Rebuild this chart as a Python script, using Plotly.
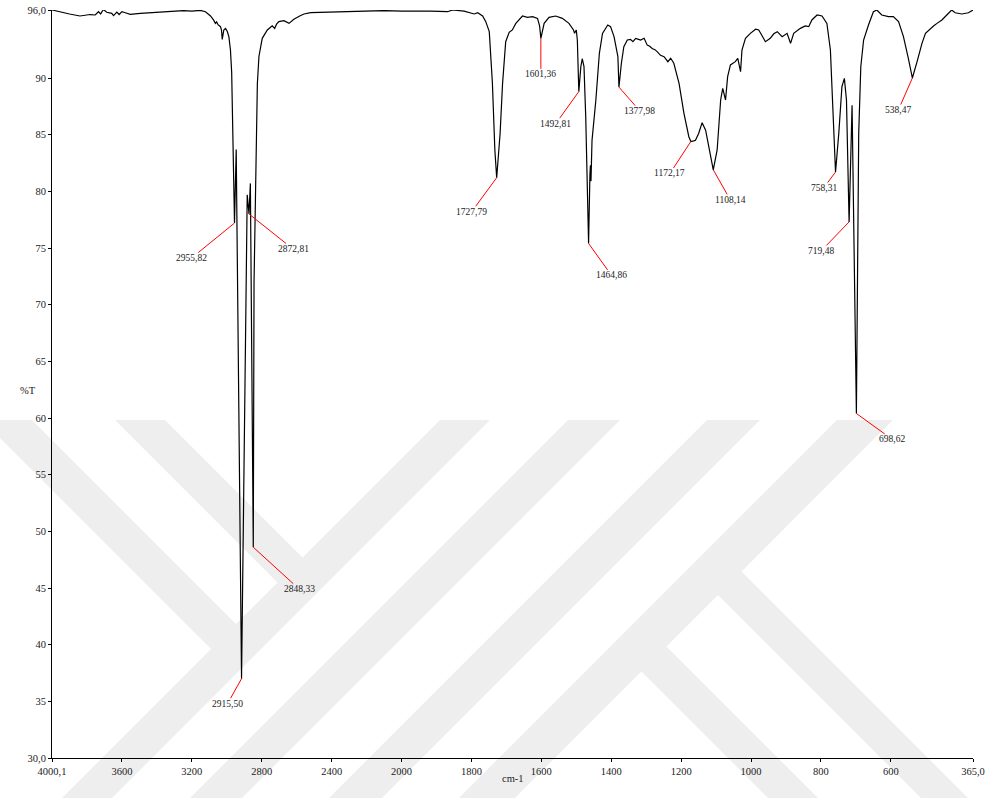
import numpy as np
import plotly.graph_objects as go

# ---- FTIR spectrum: wavenumber (cm-1) and transmittance (%T) ----
wavenumber = [
    4000.1, 3960, 3900, 3840, 3800, 3782, 3753, 3734, 3722, 3706, 3687, 3668, 3658, 3648,
    3629, 3616, 3600, 3581, 3552, 3495, 3440, 3380, 3300, 3248, 3200, 3151, 3122, 3093,
    3075, 3065, 3058, 3050, 3036, 3030, 3026, 3021, 3017, 3007, 2997, 2988, 2979, 2972,
    2969, 2963, 2946, 2883, 2865, 2844, 2830, 2825, 2816, 2797, 2768, 2740, 2726,
    2715, 2702, 2673, 2644, 2616, 2580, 2558, 2520, 2405, 2300, 2200, 2100, 2000, 1950,
    1916, 1868, 1854, 1821, 1792, 1782, 1768, 1759, 1749, 1740, 1733, 1718, 1711, 1702,
    1692, 1683, 1673, 1664, 1654, 1640, 1625, 1611, 1605, 1597, 1592, 1578, 1559, 1540,
    1521, 1508, 1505, 1500, 1497, 1487, 1483, 1478, 1473, 1468, 1461, 1459.5, 1458, 1455,
    1444, 1434, 1425, 1410, 1402, 1392, 1381, 1371, 1364, 1354, 1345, 1338, 1330, 1316,
    1306, 1297, 1290, 1283, 1275, 1268, 1259, 1249, 1238, 1230, 1221, 1206, 1192, 1178,
    1164, 1159, 1150, 1140, 1130, 1120, 1097, 1087, 1081, 1073, 1067, 1059, 1045, 1038,
    1030, 1026, 1016, 1002, 987, 978, 968, 959, 945, 935, 925, 911, 897, 887, 878, 859,
    845, 835, 826, 811, 797, 783, 773, 765, 749, 740, 733, 727, 711, 692, 686, 678, 664,
    650, 640, 626, 607, 593, 578, 564, 550, 525, 511, 501, 487, 478, 468, 454, 440, 426,
    416, 397, 378, 365.0,
]
transmittance = [
    96.0, 95.85, 95.65, 95.47, 95.55, 95.6, 95.56, 95.85, 95.65, 96.05, 95.8, 95.75, 95.7, 95.5,
    95.82, 95.6, 95.85, 95.76, 95.62, 95.7, 95.75, 95.8, 95.88, 95.94, 95.9, 95.97, 95.85, 95.47,
    95.1, 94.82, 94.95, 94.7, 94.53, 94.2, 93.4, 94.0, 94.24, 94.38, 94.1, 93.65, 92.47, 90.5,
    88.06, 82.0, 83.7, 79.7, 80.7, 72.0, 85.4, 89.5, 91.9, 93.5, 94.24, 94.6, 94.38,
    94.75, 94.97, 95.06, 94.82, 95.18, 95.5, 95.65, 95.76, 95.8, 95.85, 95.9, 95.95, 95.9, 95.92,
    95.9, 95.85, 96.0, 95.9, 95.65, 95.76, 95.47, 94.97, 94.09, 89.53, 83.65, 85.1, 89.5, 93.2,
    94.03, 94.24, 94.82, 95.12, 95.47, 95.35, 95.41, 95.26, 94.6, 94.3, 94.82, 95.35, 95.47, 95.26,
    94.82, 94.24, 93.94, 94.24, 93.35, 91.0, 91.7, 91.0, 86.6, 79.2, 81.5, 82.3, 80.9, 84.5,
    88.06, 92.18, 93.94, 94.68, 94.53, 93.65, 91.88, 91.3, 92.76, 93.35, 93.41, 93.2, 93.5, 93.35,
    93.5, 92.9, 92.8, 92.6, 92.5, 92.3, 92.0, 91.88, 91.44, 91.74, 91.3, 89.53, 86.88, 84.82,
    84.45, 84.5, 85.1, 86.06, 85.4, 83.65, 83.65, 88.06, 89.09, 88.06, 90.12, 91.15, 91.44, 91.74,
    90.56, 92.47, 93.5, 93.94, 94.3, 94.24, 93.7, 93.2, 93.5, 93.9, 94.09, 93.65, 93.94, 93.06, 93.94, 94.38,
    94.59, 94.53, 95.12, 95.56, 95.47, 94.82, 92.47, 86.6, 85.1, 89.24, 89.97, 88.06, 87.6, 85.1, 91.0, 93.35, 94.68,
    95.85, 96.0, 95.56, 95.41, 95.41, 94.97, 93.65, 91.74, 91.44, 93.06, 93.94, 94.38, 94.59, 94.82, 95.12, 95.56, 96.0,
    95.76, 95.65, 95.76, 96.0,
]

# ---- labelled absorption bands ----
peak_wn = [2955.82, 2915.50, 2872.81, 2848.33, 1727.79, 1601.36, 1492.81, 1464.86,
           1377.98, 1172.17, 1108.14, 758.31, 719.48, 698.62, 538.47]
peak_t = [77.2, 37.0, 78.0, 48.6, 81.2, 93.5, 88.8, 75.4,
          89.2, 84.4, 81.9, 81.7, 77.3, 60.4, 90.0]
# label offsets (pixels) from each band minimum to its text
peak_dx = [-43, -14, 44, 46, -25, 0, -23, 23, 21, -21, 17, -12, -28, 36, -14]
peak_dy = [35, 25, 35, 42, 34, 36, 32, 32, 24, 32, 30, 16, 29, 26, 32]

# ---- axis ticks ----
x_tick_wn = [4000.1, 3600, 3200, 2800, 2400, 2000, 1800, 1600, 1400, 1200, 1000, 800, 600, 365.0]
x_tick_text = ["4000,1", "3600", "3200", "2800", "2400", "2000", "1800", "1600",
               "1400", "1200", "1000", "800", "600", "365,0"]
y_tick_vals = [30, 35, 40, 45, 50, 55, 60, 65, 70, 75, 80, 85, 90, 96]
y_tick_text = ["30,0", "35", "40", "45", "50", "55", "60", "65", "70", "75", "80", "85", "90", "96,0"]


def to_axis(wn):
    """Instrument x scale: below 2000 cm-1 the axis is expanded two-fold."""
    wn = np.asarray(wn, dtype=float)
    return np.where(wn >= 2000, 4000.1 - wn, 2000.1 + 2.0 * (2000.0 - wn))


# merge the labelled minima into the trace so the line passes through them
all_wn = np.array(wavenumber + peak_wn)
all_t = np.array(transmittance + peak_t)
order = np.argsort(-all_wn)
all_wn, all_t = all_wn[order], all_t[order]

SERIF = "Liberation Serif, Times New Roman, serif"
W, H = 987, 798
L, R, T, B = 52, 14, 10, 40
PW, PH = W - L - R, H - T - B

fig = go.Figure()
fig.add_trace(go.Scatter(
    x=to_axis(all_wn), y=all_t, mode="lines",
    line=dict(color="black", width=1.2), hoverinfo="skip", showlegend=False,
))


# light grey background emblem made of slanted bands (pixel outline -> paper coords)
def px_path(points):
    pts = [((x - L) / PW, (H - B - y) / PH) for x, y in points]
    return "M " + " L ".join(f"{a:.4f},{b:.4f}" for a, b in pts) + " Z"


emblem = [
    [(440, 420), (490, 420), (110, 800), (60, 800)],
    [(568, 420), (620, 420), (240, 800), (188, 800)],
    [(707, 420), (760, 420), (380, 800), (327, 800)],
    [(837, 420), (893, 420), (513, 800), (457, 800)],
    [(-18, 420), (32, 420), (249, 637), (224, 662)],
    [(115, 420), (165, 420), (315, 570), (290, 595)],
    [(652, 632), (820, 800), (770, 800), (627, 657)],
    [(727, 557), (970, 800), (923, 800), (704, 581)],
]
shapes = [dict(type="path", xref="paper", yref="paper", path=px_path(p),
               fillcolor="#eeeeee", line=dict(width=0), layer="below") for p in emblem]

annotations = []
for wn, t, dx, dy in zip(peak_wn, peak_t, peak_dx, peak_dy):
    annotations.append(dict(
        x=float(to_axis(wn)), y=t, xref="x", yref="y",
        text=f"{wn:.2f}".replace(".", ","), showarrow=True, arrowhead=0,
        arrowwidth=1, arrowcolor="#ff0000", ax=dx, ay=dy, standoff=0,
        font=dict(family=SERIF, size=9.5, color="#222222"), borderpad=0,
    ))
annotations.append(dict(text="%T", x=(18 - L) / PW, y=(H - B - 391) / PH,
                        xref="paper", yref="paper", showarrow=False,
                        font=dict(family=SERIF, size=10.5, color="#222222")))
annotations.append(dict(text="cm-1", x=(513 - L) / PW, y=(H - B - 786) / PH,
                        xref="paper", yref="paper", showarrow=False,
                        font=dict(family=SERIF, size=10.5, color="#222222")))

fig.update_layout(
    width=W, height=H, margin=dict(l=L, r=R, t=T, b=B, autoexpand=False),
    paper_bgcolor="white", plot_bgcolor="rgba(0,0,0,0)",
    shapes=shapes, annotations=annotations, showlegend=False,
    xaxis=dict(
        range=[float(to_axis(4000.1)), float(to_axis(365.0))], automargin=False,
        tickvals=to_axis(x_tick_wn).tolist(), ticktext=x_tick_text,
        showline=True, linecolor="black", linewidth=1, showgrid=False, zeroline=False,
        ticks="outside", ticklen=3, tickcolor="black", tickwidth=1,
        tickfont=dict(family=SERIF, size=10.5, color="#222222"),
    ),
    yaxis=dict(
        range=[30, 96], tickvals=y_tick_vals, ticktext=y_tick_text, automargin=False,
        showline=True, linecolor="black", linewidth=1, showgrid=False, zeroline=False,
        ticks="outside", ticklen=3, tickcolor="black", tickwidth=1,
        tickfont=dict(family=SERIF, size=10.5, color="#222222"),
    ),
)

fig.write_html("out.html")
